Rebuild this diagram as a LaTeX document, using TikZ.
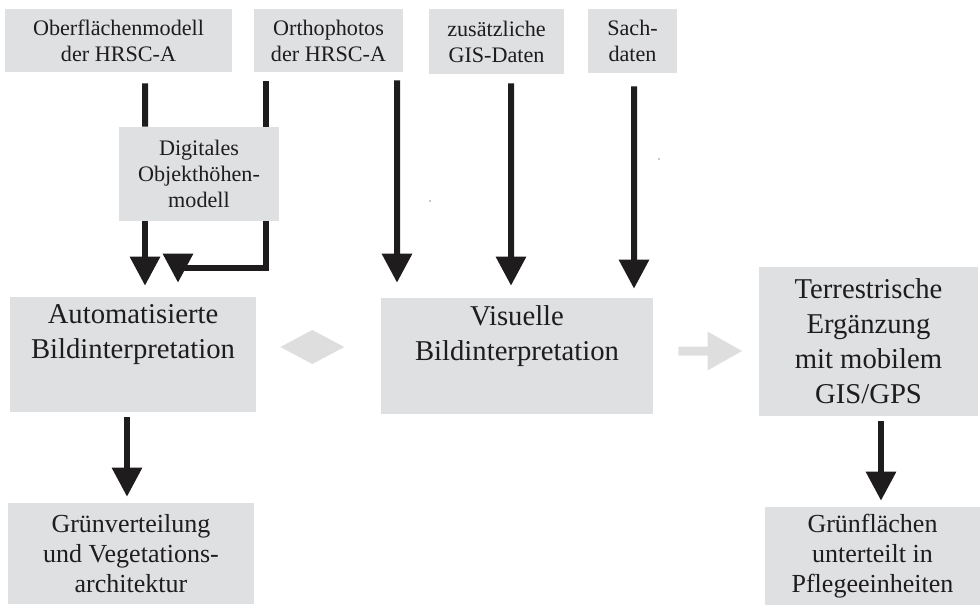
\documentclass[tikz,border=0pt]{standalone}
\usepackage{fontspec}
\setmainfont{Liberation Serif}
\usetikzlibrary{calc,arrows.meta}
\definecolor{boxgray}{RGB}{223,224,226}
\definecolor{flowgray}{RGB}{222,222,223}
\definecolor{inkblack}{RGB}{30,28,29}
\tikzset{
  databox/.style={fill=boxgray, inner sep=0pt, align=center, text=inkblack,
    font=\fontsize{15.75}{18.5}\selectfont},
  procbox/.style={fill=boxgray, inner sep=0pt, align=center, text=inkblack,
    font=\fontsize{20.4}{24.9}\selectfont},
  resultbox/.style={fill=boxgray, inner sep=0pt, align=center, text=inkblack,
    font=\fontsize{18.5}{21.3}\selectfont},
  stem/.style={draw=inkblack, line width=0.15cm},
  flow/.style={stem, -{Triangle[length=0.725cm, width=0.725cm]}},
  grayflow/.style={draw=flowgray, line width=0.225cm, -{Triangle[length=0.875cm, width=0.9cm]}}
}

\begin{document}
\begin{tikzpicture}[x=0.025cm, y=-0.025cm]
  %%%%% START %%%%%
  \useasboundingbox (0,0) rectangle (980,605);

  % input data
  \node[databox, minimum width=5.675cm, minimum height=1.575cm] (ofm) at (118.5,40.5) {Oberflächenmodell\\der HRSC-A};
  \node[databox, minimum width=3.725cm, minimum height=1.575cm] (orth) at (328.5,40.5) {Orthophotos\\der HRSC-A};
  \node[databox, minimum width=3.375cm, minimum height=1.625cm] (gis) at (496.5,41.5) {zusätzliche\\GIS-Daten};
  \node[databox, minimum width=2.225cm, minimum height=1.6cm] (sach) at (632.5,41) {Sach-\\daten};
  \node[databox, minimum width=4cm, minimum height=2.35cm] (dom) at (199,174) {Digitales\\Objekthöhen-\\modell};

  % processing
  \node[procbox, minimum width=6.15cm, minimum height=2.875cm] (auto) at (133,354.5) {Automatisierte\\Bildinterpretation\\\strut};
  \node[procbox, minimum width=6.8cm, minimum height=2.9cm] (vis) at (517,356) {Visuelle\\Bildinterpretation\\\strut};
  \node[procbox, minimum width=5.475cm, minimum height=3.725cm] (terr) at (868.5,341.5) {Terrestrische\\Ergänzung\\mit mobilem\\GIS/GPS};

  % results
  \node[resultbox, minimum width=6.15cm, minimum height=2.525cm] (gruenv) at (131,553.5) {Grünverteilung\\und Vegetations-\\architektur};
  \node[resultbox, minimum width=5.375cm, minimum height=2.45cm] (gruenf) at (872.5,556) {Grünflächen\\unterteilt in\\Pflegeeinheiten};

  % black arrows
  \draw[stem] ($(ofm.south)+(26.5,11)$) -- ($(dom.north)+(-54,0)$);
  \draw[flow] ($(dom.south)+(-54,0)$) -- ($(auto.north)+(12,-11)$);
  \draw[stem] ($(orth.south)+(-62.5,9)$) -- ($(dom.north)+(67,0)$);
  \draw[flow] ($(dom.south)+(67,0)$) |- ($(auto.north)+(45,-29)$) -- ($(auto.north)+(45,-14)$);
  \draw[flow] ($(orth.south)+(68.5,8)$) -- ($(vis.north)+(-120,-15)$);
  \draw[flow] ($(gis.south)+(14.5,9)$) -- ($(vis.north)+(-6,-12)$);
  \draw[flow] ($(sach.south)+(1.5,13)$) -- ($(vis.north)+(117,-9)$);
  \draw[flow] ($(auto.south)+(-6,5)$) -- ($(gruenv.north)+(-4,-6)$);
  \draw[flow] ($(terr.south)+(12.5,5)$) -- ($(gruenf.north)+(8.5,-6)$);

  % gray arrows
  \fill[flowgray] ($(auto.east)+(24,-7.5)$) -- ($(auto.east)+(56,-24.5)$)
    -- ($(auto.east)+(88,-7.5)$) -- ($(auto.east)+(56,9.5)$) -- cycle;
  \draw[grayflow] ($(vis.east)+(25,-5)$) -- ($(terr.west)+(-16,9.5)$);

  % stray dots
  \fill[inkblack] (430,201) circle (0.6);
  \fill[inkblack] (659,159) circle (0.6);
  %%%%% END %%%%%
\end{tikzpicture}
\end{document}
